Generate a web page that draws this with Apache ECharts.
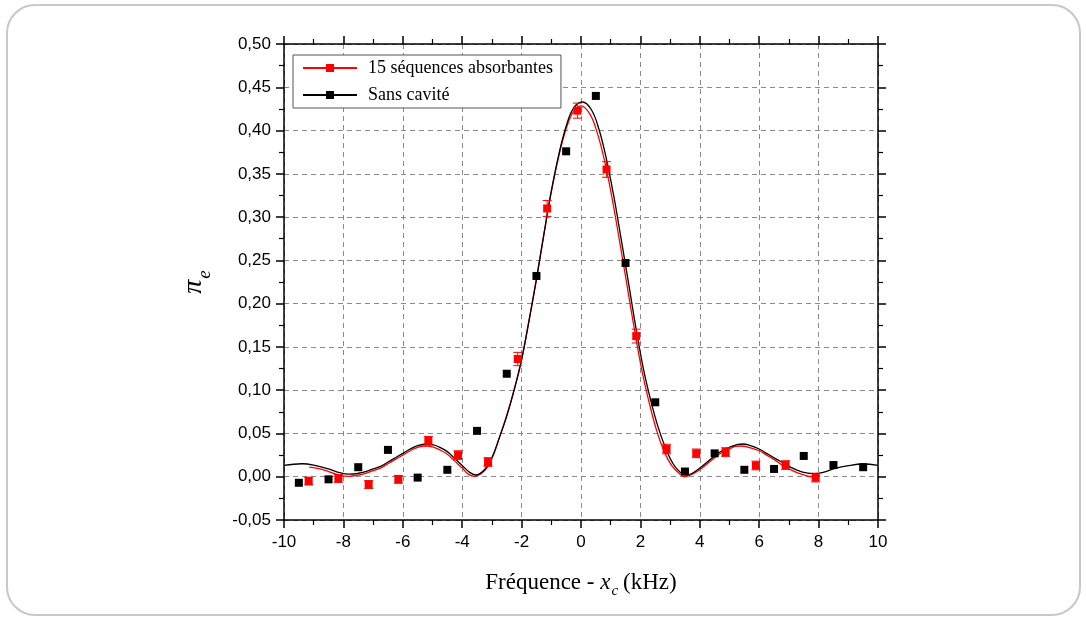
<!DOCTYPE html>
<html><head><meta charset="utf-8">
<script src="https://cdn.jsdelivr.net/npm/echarts@6/dist/echarts.min.js"></script>
<style>html,body{margin:0;padding:0;background:#fff}#c{width:1086px;height:618px}</style>
</head><body><div id="c"></div>
<script>
// Axis ticks
const xTicks = [-10, -8, -6, -4, -2, 0, 2, 4, 6, 8, 10];
const yTicks = [-0.05, 0, 0.05, 0.10, 0.15, 0.20, 0.25, 0.30, 0.35, 0.40, 0.45, 0.50];

// Series names
const nameRed = '15 séquences absorbantes';
const nameBlack = 'Sans cavité';

// Measured points: Sans cavité
const blackX = [-9.5, -8.5, -7.5, -6.5, -5.5, -4.5, -3.5, -2.5, -1.5, -0.5, 0.5, 1.5, 2.5, 3.5, 4.5, 5.5, 6.5, 7.5, 8.5, 9.5];
const blackY = [-0.007, -0.003, 0.011, 0.031, -0.001, 0.008, 0.053, 0.119, 0.232, 0.376, 0.440, 0.247, 0.086, 0.006, 0.027, 0.008, 0.009, 0.024, 0.0135, 0.011];

// Measured points: 15 séquences absorbantes (with error bars)
const redX = [-9.17, -8.17, -7.15, -6.15, -5.14, -4.14, -3.13, -2.13, -1.14, -0.12, 0.86, 1.86, 2.88, 3.88, 4.87, 5.89, 6.89, 7.9];
const redY = [-0.005, -0.002, -0.009, -0.003, 0.0416, 0.025, 0.017, 0.136, 0.310, 0.423, 0.355, 0.1625, 0.032, 0.027, 0.0285, 0.013, 0.0135, -0.001];
const redErr = [0.0045, 0.0045, 0.0045, 0.0045, 0.005, 0.005, 0.005, 0.0077, 0.0092, 0.0087, 0.009, 0.008, 0.0055, 0.005, 0.005, 0.005, 0.005, 0.005];

// Fit curve: Sans cavité
const fitBlackX = [-10, -9.4, -9.0, -8.5, -8.25, -7.8, -7.5, -7.25, -7.0, -6.75, -6.5, -6.25, -6.0, -5.75, -5.5, -5.2, -5.0, -4.75, -4.5, -4.25, -4.0, -3.75, -3.55,
  -3.25, -3.0, -2.75, -2.5, -2.25, -2.0, -1.75, -1.5, -1.25, -1.0, -0.75, -0.5, -0.25, 0.05, 0.35, 0.6, 0.85, 1.1, 1.35, 1.6, 1.85, 2.1, 2.35, 2.6, 2.85, 3.1, 3.35, 3.55,
  3.75, 4.0, 4.25, 4.5, 4.75, 5.0, 5.25, 5.45, 5.7, 6.0, 6.25, 6.5, 6.75, 7.0, 7.25, 7.5, 7.85, 8.25, 8.5, 9.0, 9.5, 10];
const fitBlackY = [0.013, 0.015, 0.0135, 0.009, 0.006, 0.003, 0.004, 0.006, 0.009, 0.012, 0.017, 0.022, 0.027, 0.032, 0.036, 0.0378, 0.037, 0.034, 0.029, 0.021, 0.013, 0.005, 0.002,
  0.008, 0.022, 0.045, 0.070, 0.100, 0.135, 0.180, 0.228, 0.280, 0.330, 0.372, 0.405, 0.426, 0.433, 0.424, 0.402, 0.368, 0.325, 0.275, 0.224, 0.172, 0.125, 0.088, 0.057, 0.033, 0.015, 0.005, 0.002,
  0.004, 0.010, 0.017, 0.024, 0.030, 0.034, 0.037, 0.0378, 0.036, 0.032, 0.027, 0.022, 0.017, 0.012, 0.008, 0.005, 0.0035, 0.006, 0.009, 0.0128, 0.0147, 0.013];

// Fit curve: 15 séquences absorbantes
const fitRedX = [-9.15, -8.8, -8.5, -8.25, -7.8, -7.5, -7.25, -7.0, -6.75, -6.5, -6.25, -6.0, -5.75, -5.5, -5.2, -5.0, -4.75, -4.5, -4.25, -4.0, -3.8, -3.6,
  -3.25, -3.0, -2.75, -2.5, -2.25, -2.0, -1.75, -1.5, -1.25, -1.0, -0.75, -0.5, -0.25, 0.0, 0.3, 0.55, 0.8, 1.05, 1.3, 1.55, 1.8, 2.05, 2.3, 2.55, 2.8, 3.05, 3.3, 3.5,
  3.75, 4.0, 4.25, 4.5, 4.75, 5.0, 5.2, 5.4, 5.65, 6.0, 6.25, 6.5, 6.75, 7.0, 7.25, 7.5, 7.8, 8.05];
const fitRedY = [0.011, 0.009, 0.006, 0.003, 0.0005, 0.002, 0.004, 0.007, 0.010, 0.015, 0.020, 0.025, 0.030, 0.034, 0.0355, 0.0345, 0.031, 0.026, 0.018, 0.010, 0.003, 0.0005,
  0.007, 0.021, 0.045, 0.071, 0.101, 0.136, 0.181, 0.229, 0.280, 0.329, 0.370, 0.402, 0.422, 0.4285, 0.419, 0.397, 0.364, 0.321, 0.272, 0.221, 0.170, 0.123, 0.085, 0.053, 0.029, 0.013, 0.004, 0.0,
  0.003, 0.008, 0.015, 0.022, 0.028, 0.032, 0.035, 0.0355, 0.034, 0.030, 0.025, 0.020, 0.014, 0.009, 0.005, 0.002, 0.0, 0.001];

const zip = (a, b) => a.map((v, i) => [v, b[i]]);

const fmtY = v => (Math.abs(v) < 1e-9 ? 0 : v).toFixed(2).replace('.', ',');
const labelFont = { fontFamily: 'Liberation Sans, Arial, sans-serif', fontSize: 17, color: '#000' };
const axisLine = { show: true, onZero: false, lineStyle: { color: '#000', width: 1.5 } };
const tick = { show: true, inside: false, length: 8, lineStyle: { color: '#000', width: 1.5 } };
const minorTick = { show: true, splitNumber: 2, length: 5, lineStyle: { color: '#000', width: 1.2 } };
const gridLine = { show: true, lineStyle: { color: '#8a8a8a', width: 1, type: [5, 4] } };

const xMin = xTicks[0], xMax = xTicks[xTicks.length - 1], xInt = xTicks[1] - xTicks[0];
const yMin = yTicks[0], yMax = yTicks[yTicks.length - 1], yInt = 0.05;

const chart = echarts.init(document.getElementById('c'), null, { renderer: 'canvas' });
chart.setOption({
  animation: false,
  backgroundColor: '#fff',
  graphic: [{
    type: 'rect', silent: true, z: -10,
    shape: { x: 7, y: 5, width: 1073, height: 610, r: 28 },
    style: { fill: 'none', stroke: '#c8c8c8', lineWidth: 2 }
  }],
  grid: { left: 284, right: 208, top: 44, bottom: 98, containLabel: false },
  legend: {
    data: [nameRed, nameBlack],
    orient: 'vertical',
    left: 293, top: 55,
    padding: [4, 8, 4, 9],
    itemGap: 9,
    itemWidth: 54, itemHeight: 10,
    borderColor: '#555', borderWidth: 1, borderRadius: 0,
    backgroundColor: '#fff',
    textStyle: { fontFamily: 'Liberation Serif, Times New Roman, serif', fontSize: 18, color: '#000', padding: [0, 0, 0, 6] }
  },
  xAxis: [{
    type: 'value', min: xMin, max: xMax, interval: xInt,
    axisLine: axisLine, axisTick: tick, minorTick: minorTick,
    splitLine: gridLine,
    axisLabel: Object.assign({ margin: 14, formatter: v => String(v) }, labelFont),
    name: '{r|Fréquence - }{i|x}{s|c}{r|(kHz)}',
    nameLocation: 'middle', nameGap: 51,
    nameTextStyle: {
      rich: {
        r: { fontFamily: 'Liberation Serif, serif', fontSize: 23, color: '#000', verticalAlign: 'bottom' },
        i: { fontFamily: 'Liberation Serif, serif', fontStyle: 'italic', fontSize: 23, color: '#000', verticalAlign: 'bottom' },
        s: { fontFamily: 'Liberation Serif, serif', fontStyle: 'italic', fontSize: 15, color: '#000', verticalAlign: 'bottom', padding: [0, 5, -5, 1] }
      }
    }
  }, {
    type: 'value', position: 'top', min: xMin, max: xMax, interval: xInt,
    axisLine: axisLine, axisTick: tick, minorTick: minorTick,
    splitLine: { show: false }, axisLabel: { show: false }
  }],
  yAxis: [{
    type: 'value', min: yMin, max: yMax, interval: yInt,
    axisLine: axisLine, axisTick: tick, minorTick: minorTick,
    splitLine: gridLine,
    axisLabel: Object.assign({ margin: 13, formatter: fmtY }, labelFont),
    name: '{p|π}{s|e}',
    nameLocation: 'middle', nameGap: 76, nameRotate: 90,
    nameTextStyle: {
      rich: {
        p: { fontFamily: 'Liberation Serif, serif', fontStyle: 'italic', fontSize: 28, color: '#000', verticalAlign: 'bottom' },
        s: { fontFamily: 'Liberation Serif, serif', fontStyle: 'italic', fontSize: 19, color: '#000', verticalAlign: 'bottom', padding: [0, 0, -6, 1] }
      }
    }
  }, {
    type: 'value', position: 'right', min: yMin, max: yMax, interval: yInt,
    axisLine: axisLine, axisTick: tick, minorTick: minorTick,
    splitLine: { show: false }, axisLabel: { show: false }
  }],
  series: [
    {
      name: nameRed, type: 'line', data: zip(fitRedX, fitRedY),
      smooth: 0.4, showSymbol: false, symbol: 'rect', symbolSize: 8,
      color: '#ff0000', lineStyle: { color: '#ff0000', width: 1.3 }, z: 2, silent: true
    },
    {
      name: nameBlack, type: 'line', data: zip(fitBlackX, fitBlackY),
      smooth: 0.4, showSymbol: false, symbol: 'rect', symbolSize: 8,
      color: '#000000', lineStyle: { color: '#000000', width: 1.3 }, z: 2, silent: true
    },
    {
      name: nameRed, type: 'custom', z: 4, silent: true,
      data: redX.map((x, i) => [x, redY[i], redErr[i]]),
      renderItem: function (params, api) {
        const x = api.value(0), y = api.value(1), e = api.value(2);
        const t = api.coord([x, y + e]), b = api.coord([x, y - e]);
        const w = 4.5, st = { stroke: '#ff0000', lineWidth: 1 };
        return {
          type: 'group', children: [
            { type: 'line', shape: { x1: t[0], y1: t[1], x2: b[0], y2: b[1] }, style: st },
            { type: 'line', shape: { x1: t[0] - w, y1: t[1], x2: t[0] + w, y2: t[1] }, style: st },
            { type: 'line', shape: { x1: b[0] - w, y1: b[1], x2: b[0] + w, y2: b[1] }, style: st }
          ]
        };
      }
    },
    {
      name: nameRed, type: 'scatter', data: zip(redX, redY),
      symbol: 'rect', symbolSize: 8, itemStyle: { color: '#ff0000', opacity: 1 }, z: 5, silent: true
    },
    {
      name: nameBlack, type: 'scatter', data: zip(blackX, blackY),
      symbol: 'rect', symbolSize: 8, itemStyle: { color: '#000000', opacity: 1 }, z: 5, silent: true
    }
  ]
});
</script>
</body></html>
